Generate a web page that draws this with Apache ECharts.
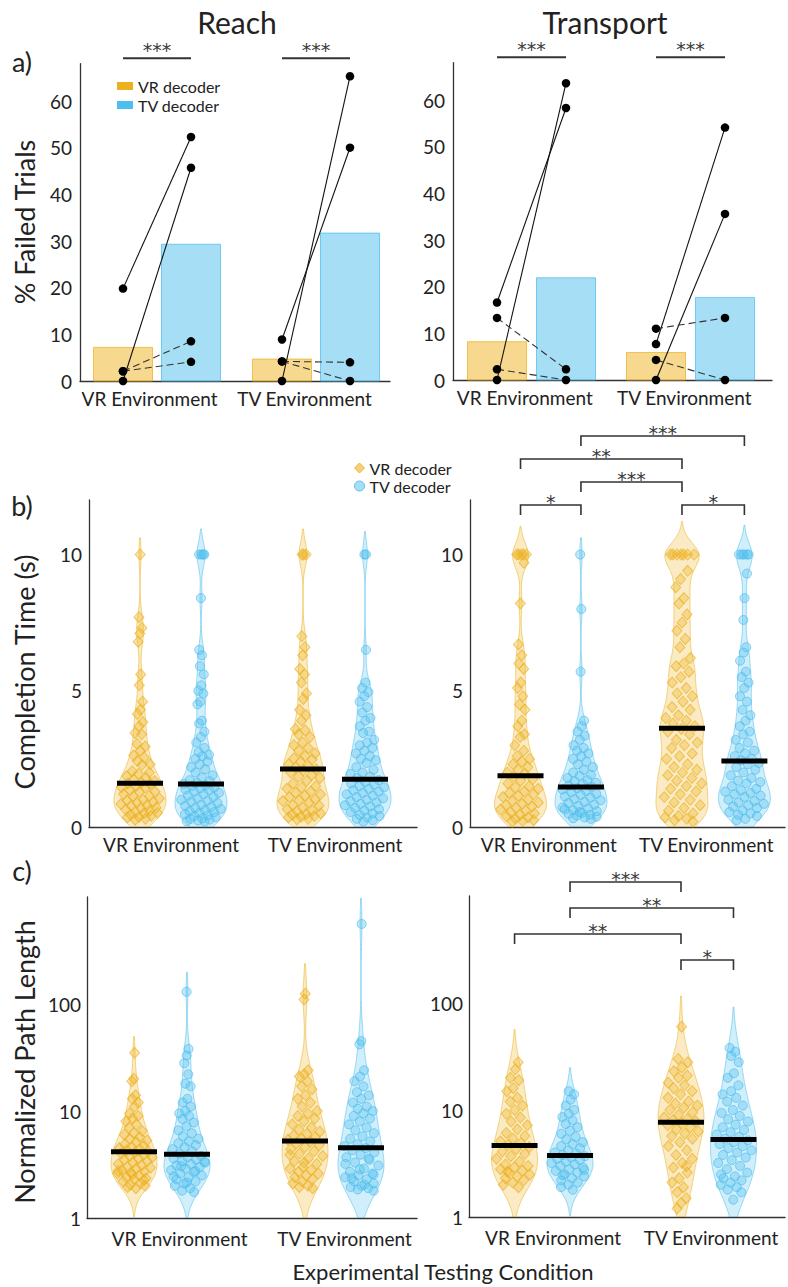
<!DOCTYPE html>
<html><head><meta charset="utf-8">
<script src="https://cdn.jsdelivr.net/npm/echarts@6/dist/echarts.min.js"></script>
<style>html,body{margin:0;padding:0;background:#fff}#c{width:788px;height:1287px}</style>
</head><body><div id="c"></div>
<script>
// ================= DATA =================
const environments = ['VR Environment', 'TV Environment'];
const decoders = ['VR decoder', 'TV decoder'];
const tasks = ['Reach', 'Transport'];
const rowLabels = ['a)', 'b)', 'c)'];
const yTitles = ['% Failed Trials', 'Completion Time (s)', 'Normalized Path Length'];
const xTitle = 'Experimental Testing Condition';

// a) % failed trials, bar order: [VR env/VR dec, VR env/TV dec, TV env/VR dec, TV env/TV dec]
const failedBarsReach = [7.2, 29.3, 4.7, 31.7];
const failedBarsTransport = [8.2, 21.9, 5.9, 17.7];
// per participant [VR decoder, TV decoder]
const failedReachVRenv = [[19.8, 52.3], [0, 45.7], [2.1, 8.5], [2.1, 4.1]];
const failedReachTVenv = [[0, 65.3], [8.9, 50.0], [4.2, 4.0], [4.2, 0]];
const failedTransportVRenv = [[16.6, 58.3], [0, 63.6], [13.3, 2.3], [2.3, 0]];
const failedTransportTVenv = [[7.7, 54.1], [0, 35.6], [11.0, 13.3], [4.3, 0]];
const pairSignificant = [true, true, false, false];
const sigFailedReach = ['***', '***'];
const sigFailedTransport = ['***', '***'];

// b) completion time (s)
const timeReachVRenvVR = [10.0, 7.7, 7.3, 7.1, 6.8, 5.6, 5.2, 4.6, 4.3, 4.15, 3.85, 3.7, 3.45, 3.4, 3.05, 2.95, 2.8, 2.62, 2.55, 2.42, 2.3, 2.28, 2.05, 2.0, 1.95, 1.86, 1.8, 1.74, 1.68, 1.63, 1.6, 1.58, 1.5, 1.46, 1.44, 1.35, 1.3, 1.29, 1.21, 1.14, 1.12, 1.05, 1.0, 0.97, 0.92, 0.9, 0.84, 0.8, 0.78, 0.71, 0.7, 0.64, 0.6, 0.55, 0.52, 0.5, 0.45, 0.41, 0.37, 0.35, 0.3, 0.27];
const timeReachVRenvTV = [10.0, 10.0, 10.0, 10.0, 8.4, 6.5, 6.3, 5.9, 5.6, 5.2, 5.0, 4.9, 4.6, 4.5, 3.9, 3.8, 3.5, 3.3, 3.1, 2.9, 2.75, 2.65, 2.6, 2.5, 2.4, 2.3, 2.2, 2.12, 2.0, 1.9, 1.82, 1.72, 1.68, 1.62, 1.58, 1.53, 1.5, 1.45, 1.42, 1.38, 1.35, 1.3, 1.25, 1.2, 1.15, 1.1, 1.05, 1.0, 0.96, 0.93, 0.88, 0.82, 0.78, 0.74, 0.7, 0.66, 0.62, 0.58, 0.55, 0.51, 0.47, 0.43, 0.4, 0.36, 0.32, 0.3, 0.27, 0.24, 0.21, 0.2];
const timeReachTVenvVR = [10.0, 10.0, 10.0, 7.0, 6.6, 6.3, 5.8, 5.6, 5.3, 4.9, 4.7, 4.3, 4.1, 3.9, 3.6, 3.55, 3.4, 3.3, 3.1, 3.0, 2.9, 2.8, 2.7, 2.6, 2.52, 2.48, 2.4, 2.3, 2.22, 2.18, 2.12, 2.08, 2.0, 1.9, 1.85, 1.8, 1.7, 1.6, 1.5, 1.45, 1.4, 1.3, 1.25, 1.2, 1.15, 1.1, 1.0, 0.98, 0.95, 0.9, 0.8, 0.78, 0.7, 0.65, 0.6, 0.58, 0.5, 0.48, 0.45, 0.4, 0.38, 0.35, 0.3, 0.28];
const timeReachTVenvTV = [10.0, 10.0, 6.5, 5.3, 5.1, 4.95, 4.8, 4.6, 4.4, 4.2, 4.0, 3.9, 3.7, 3.5, 3.45, 3.2, 3.1, 3.0, 2.9, 2.8, 2.7, 2.6, 2.5, 2.45, 2.35, 2.2, 2.1, 2.0, 1.95, 1.85, 1.8, 1.72, 1.65, 1.6, 1.55, 1.5, 1.45, 1.4, 1.35, 1.3, 1.25, 1.2, 1.15, 1.1, 1.05, 1.0, 0.95, 0.9, 0.85, 0.8, 0.75, 0.7, 0.65, 0.6, 0.55, 0.5, 0.45, 0.4, 0.35, 0.3, 0.25, 0.2];
const timeTransportVRenvVR = [10.0, 10.0, 10.0, 10.0, 10.0, 9.7, 8.2, 6.7, 6.3, 6.0, 5.8, 5.3, 5.1, 4.8, 4.5, 4.3, 3.9, 3.7, 3.4, 3.3, 3.0, 2.8, 2.6, 2.5, 2.4, 2.3, 2.2, 2.1, 2.0, 1.95, 1.85, 1.75, 1.7, 1.6, 1.5, 1.45, 1.4, 1.3, 1.25, 1.2, 1.15, 1.1, 1.0, 0.95, 0.9, 0.85, 0.8, 0.75, 0.7, 0.65, 0.6, 0.55, 0.5, 0.45, 0.4, 0.35, 0.3, 0.25, 0.22, 0.2];
const timeTransportVRenvTV = [10.0, 8.0, 5.7, 3.9, 3.7, 3.5, 3.35, 3.2, 3.0, 2.9, 2.8, 2.7, 2.6, 2.5, 2.4, 2.3, 2.2, 2.1, 2.0, 1.92, 1.88, 1.8, 1.72, 1.68, 1.62, 1.58, 1.52, 1.48, 1.42, 1.38, 1.32, 1.28, 1.22, 1.18, 1.12, 1.08, 1.02, 0.98, 0.92, 0.88, 0.82, 0.78, 0.72, 0.68, 0.62, 0.58, 0.52, 0.48, 0.45, 0.42, 0.38, 0.35, 0.32, 0.3, 0.55, 0.65];
const timeTransportTVenvVR = [10.0, 10.0, 10.0, 10.0, 10.0, 10.0, 10.0, 9.4, 9.1, 8.8, 8.4, 8.2, 7.8, 7.5, 7.2, 6.9, 6.6, 6.2, 6.0, 5.9, 5.7, 5.5, 5.3, 5.1, 4.9, 4.8, 4.6, 4.4, 4.3, 4.1, 4.0, 3.9, 3.8, 3.7, 3.6, 3.5, 3.4, 3.2, 3.1, 3.0, 2.9, 2.7, 2.6, 2.5, 2.3, 2.2, 2.1, 2.0, 1.9, 1.8, 1.7, 1.6, 1.5, 1.4, 1.3, 1.2, 1.1, 1.0, 0.9, 0.8, 0.7, 0.6, 0.5, 0.4, 0.35, 0.3, 0.25, 0.2];
const timeTransportTVenvTV = [10.0, 10.0, 10.0, 10.0, 10.0, 9.3, 8.4, 7.6, 6.6, 6.4, 6.1, 5.7, 5.5, 5.3, 5.1, 4.8, 4.6, 4.3, 4.1, 3.9, 3.7, 3.5, 3.4, 3.2, 3.1, 2.9, 2.8, 2.7, 2.6, 2.5, 2.45, 2.35, 2.3, 2.2, 2.1, 2.0, 1.9, 1.8, 1.7, 1.65, 1.6, 1.5, 1.4, 1.35, 1.3, 1.25, 1.2, 1.15, 1.1, 1.0, 0.95, 0.9, 0.85, 0.8, 0.75, 0.7, 0.6, 0.55, 0.5, 0.45, 0.4, 0.3, 0.25];
const timeMediansReach = [1.61, 1.58, 2.13, 1.75];
const timeMediansTransport = [1.88, 1.47, 3.62, 2.42];
const timeTicks = [0, 5, 10];

// c) normalized path length
const pathReachVRenvVR = [35, 20, 19, 14, 13, 12, 11, 9.5, 9.0, 8.5, 8.0, 7.5, 7.0, 6.5, 6.2, 6.0, 5.7, 5.5, 5.3, 5.1, 4.9, 4.7, 4.6, 4.5, 4.4, 4.3, 4.2, 4.1, 4.0, 3.9, 3.8, 3.7, 3.6, 3.5, 3.4, 3.3, 3.2, 3.1, 3.0, 2.95, 2.9, 2.8, 2.7, 2.65, 2.6, 2.5, 2.4, 2.35, 2.3, 2.2, 2.1, 2.05, 2.0, 1.9, 1.95, 2.25, 2.55, 2.75];
const pathReachVRenvTV = [130, 38, 33, 28, 22, 18, 17, 13, 12, 11, 10, 9.5, 9, 8.4, 7.8, 7.2, 6.6, 6.2, 5.8, 5.5, 5.2, 5.0, 4.8, 4.6, 4.4, 4.2, 4.0, 3.8, 3.7, 3.6, 3.5, 3.4, 3.3, 3.2, 3.1, 3.0, 2.9, 2.8, 2.7, 2.6, 2.5, 2.4, 2.3, 2.2, 2.1, 2.0, 1.9, 1.8, 1.75, 2.15, 2.45, 2.75, 3.05, 3.35];
const pathReachTVenvVR = [125, 110, 24, 22, 21, 19, 17, 16, 14, 13, 12, 11, 10, 9.5, 9, 8.5, 8, 7.5, 7, 6.7, 6.4, 6.1, 5.9, 5.7, 5.5, 5.4, 5.2, 5.0, 4.8, 4.6, 4.4, 4.2, 4.0, 3.8, 3.6, 3.4, 3.2, 3.0, 2.9, 2.8, 2.7, 2.6, 2.5, 2.4, 2.3, 2.2, 2.1, 2.0, 1.95, 1.9, 3.3, 3.9];
const pathReachTVenvTV = [560, 45, 42, 24, 21, 19, 17, 15, 14, 13, 12, 11, 10.5, 10, 9.5, 9, 8.5, 8, 7.5, 7, 6.6, 6.2, 5.8, 5.5, 5.2, 4.9, 4.7, 4.5, 4.3, 4.1, 3.9, 3.7, 3.5, 3.3, 3.1, 2.9, 2.7, 2.6, 2.5, 2.4, 2.3, 2.2, 2.1, 2.0, 1.95, 1.9, 1.85, 1.8, 2.05, 2.35, 2.55, 2.85, 3.2, 3.6];
const pathTransportVRenvVR = [28, 24, 20, 19, 16, 15, 13, 12, 11, 10, 9.2, 8.5, 7.8, 7.2, 6.6, 6.1, 5.7, 5.4, 5.1, 4.9, 4.7, 4.5, 4.3, 4.1, 3.9, 3.7, 3.5, 3.3, 3.1, 3.0, 2.9, 2.8, 2.7, 2.6, 2.5, 2.4, 2.3, 2.2, 2.1, 2.0, 1.9, 2.65];
const pathTransportVRenvTV = [15, 14, 12.5, 11, 10, 9.2, 8.6, 8.0, 7.4, 6.9, 6.4, 6.0, 5.6, 5.3, 5.0, 4.8, 4.6, 4.4, 4.2, 4.0, 3.9, 3.8, 3.7, 3.6, 3.5, 3.4, 3.3, 3.2, 3.1, 3.0, 2.9, 2.8, 2.7, 2.6, 2.5, 2.4, 2.3, 2.2, 2.1, 2.0, 1.9, 1.8, 2.45, 2.75];
const pathTransportTVenvVR = [60, 30, 28, 25, 23, 21, 20, 18, 17, 16, 15, 14, 13, 12, 11.5, 11, 10.5, 10, 9.5, 9, 8.5, 8.2, 8.0, 7.8, 7.5, 7.2, 6.9, 6.6, 6.3, 6.0, 5.7, 5.4, 5.0, 4.6, 4.2, 3.8, 3.5, 3.2, 2.9, 2.6, 2.3, 2.1, 1.9, 1.7, 1.5, 1.35, 1.2, 3.0];
const pathTransportTVenvTV = [38, 35, 32, 28, 22, 20, 17, 15, 14, 13, 12, 11, 10, 9.4, 8.8, 8.2, 7.8, 7.3, 6.9, 6.5, 6.2, 5.9, 5.6, 5.4, 5.2, 5.0, 4.8, 4.6, 4.4, 4.2, 4.0, 3.8, 3.6, 3.4, 3.2, 3.0, 2.8, 2.6, 2.4, 2.3, 2.2, 2.1, 2.0, 1.9, 1.8, 1.7, 1.45, 2.5];
const pathMediansReach = [4.17, 3.94, 5.24, 4.54];
const pathMediansTransport = [4.67, 3.76, 7.67, 5.3];

// significance brackets: [slotA, slotB, label]
const sigTimeTransport = [[0, 1, '*'], [2, 3, '*'], [1, 2, '***'], [0, 2, '**'], [1, 3, '***']];
const sigPathTransport = [[2, 3, '*'], [0, 2, '**'], [1, 3, '**'], [1, 2, '***']];

// ================= LAYOUT / STYLE =================
const FONT = 'Lato, "Open Sans", "Noto Sans", sans-serif';
const STAR_FONT = '19px "DejaVu Sans", sans-serif';
const VR_RGB = '237,177,32', TV_RGB = '77,190,238';
const rgba = (c, a) => 'rgba(' + c + ',' + a + ')';
const DEC_RGB = [VR_RGB, TV_RGB];
const TXT = '#222';
const AX = '#333';

const PANELS = [
  {left: 80, top: 63.7, width: 310, height: 317.3, slotPx: [43, 111, 202, 270], labPad: [0, 16, 0, 0], xMargin: 8},
  {left: 453, top: 62.7, width: 319, height: 317.3, slotPx: [44, 113, 203, 272], labPad: [0, 16, 0, 0], xMargin: 8},
  {left: 89, top: 500, width: 328, height: 327, slotPx: [51, 112, 214, 276], labPad: [0, 0, 0, 0], xMargin: 8},
  {left: 470, top: 500, width: 318, height: 327, slotPx: [51, 112, 214, 277], labPad: [0, 0, 0, 0], xMargin: 8},
  {left: 87, top: 897, width: 330, height: 321, slotPx: [47, 100, 218, 274], labPad: [0, 0, 0, 20], xMargin: 11},
  {left: 469, top: 896, width: 319, height: 321, slotPx: [46, 102, 214, 267], labPad: [0, 0, 0, 10], xMargin: 11}
];
const slotX = (p, s) => PANELS[p].slotPx[s] * 4 / PANELS[p].width;

function median(a) {
  const s = a.slice().sort((x, y) => x - y), m = s.length >> 1;
  return s.length % 2 ? s[m] : (s[m - 1] + s[m]) / 2;
}
// kernel density violin outline (normal kernel; fixed or MAD-based bandwidth)
function buildViolin(values, isLog, yMin, yMax, maxHalf, fixedBw) {
  const t = values.map(v => isLog ? Math.log10(v) : v);
  let bw = fixedBw;
  if (!bw) {
    const med = median(t);
    const sig = median(t.map(x => Math.abs(x - med))) / 0.6745;
    bw = sig * Math.pow(4 / (3 * t.length), 0.2);
  }
  const lo = isLog ? Math.log10(yMin) : yMin, hi = isLog ? Math.log10(yMax) : yMax;
  const N = 260, pts = [];
  for (let k = 0; k <= N; k++) {
    const tt = lo + (hi - lo) * k / N;
    let d = 0;
    for (const x of t) { const z = (tt - x) / bw; d += Math.exp(-0.5 * z * z); }
    pts.push([tt, d]);
  }
  const dmax = Math.max.apply(null, pts.map(q => q[1]));
  const out = pts.map(q => [q[0], q[1] / dmax * maxHalf]);
  let a = 0; while (a < out.length - 1 && out[a][1] < 0.4) a++;
  let b = out.length - 1; while (b > 0 && out[b][1] < 0.4) b--;
  const outline = out.slice(a, b + 1).map(q => [isLog ? Math.pow(10, q[0]) : q[0], q[1]]);
  const hwAt = v => {
    const tv = isLog ? Math.log10(v) : v;
    let best = out[0], bd = Infinity;
    for (const q of out) { const dd = Math.abs(q[0] - tv); if (dd < bd) { bd = dd; best = q; } }
    return best[1];
  };
  return {outline, hwAt};
}

const violinPanels = [
  {p: 2, data: [timeReachVRenvVR, timeReachVRenvTV, timeReachTVenvVR, timeReachTVenvTV], med: timeMediansReach, log: false, yMin: 0, yMax: 12, half: 26, bw: 0.45},
  {p: 3, data: [timeTransportVRenvVR, timeTransportVRenvTV, timeTransportTVenvVR, timeTransportTVenvTV], med: timeMediansTransport, log: false, yMin: 0, yMax: 12, half: 26, bw: 0.45},
  {p: 4, data: [pathReachVRenvVR, pathReachVRenvTV, pathReachTVenvVR, pathReachTVenvTV], med: pathMediansReach, log: true, yMin: 1, yMax: 1000, half: 23, bw: 0},
  {p: 5, data: [pathTransportVRenvVR, pathTransportVRenvTV, pathTransportTVenvVR, pathTransportTVenvTV], med: pathMediansTransport, log: true, yMin: 1, yMax: 1000, half: 23, bw: 0}
];

// ================= OPTION =================
const grid = PANELS.map(p => ({left: p.left, top: p.top, width: p.width, height: p.height, containLabel: false}));
const xAxis = PANELS.map((p, i) => ({
  type: 'value', gridIndex: i, min: 0, max: 4, interval: 1,
  axisLine: {show: true, onZero: false, lineStyle: {color: AX, width: 1.3}},
  axisTick: {show: false}, splitLine: {show: false},
  axisLabel: {
    fontSize: 19, color: TXT, fontFamily: FONT, margin: p.xMargin, padding: p.labPad,
    formatter: v => v === 1 ? environments[0] : (v === 3 ? environments[1] : '')
  }
}));
const yCommon = i => ({
  gridIndex: i, axisLine: {show: true, onZero: false, lineStyle: {color: AX, width: 1.3}},
  axisTick: {show: false}, splitLine: {show: false}
});
const yAxis = PANELS.map((p, i) => {
  if (i < 2) return Object.assign(yCommon(i), {type: 'value', min: 0, max: 68, interval: 10,
    axisLabel: {fontSize: 19, color: TXT, fontFamily: FONT, margin: 8, formatter: v => (v % 10 === 0 && v <= 60) ? String(v) : ''}});
  if (i < 4) return Object.assign(yCommon(i), {type: 'value', min: 0, max: 12, interval: 5,
    axisLabel: {fontSize: 19, color: TXT, fontFamily: FONT, margin: 7, formatter: v => timeTicks.indexOf(v) >= 0 ? String(v) : ''}});
  return Object.assign(yCommon(i), {type: 'log', logBase: 10, min: 1, max: 1000,
    axisLabel: {fontSize: 19, color: TXT, fontFamily: FONT, margin: 6, formatter: v => v < 999 ? String(Math.round(v)) : ''}});
});

const series = [];
const starText = (label, x, y) => ({type: 'text', style: {text: label, x: x, y: y, align: 'center', verticalAlign: 'middle',
  textAlign: 'center', textVerticalAlign: 'middle', fill: '#3a3a3a', font: STAR_FONT}});

// ---- row a ----
[[failedBarsReach, failedReachVRenv, failedReachTVenv, sigFailedReach],
 [failedBarsTransport, failedTransportVRenv, failedTransportTVenv, sigFailedTransport]].forEach((cfg, p) => {
  const bars = cfg[0], envPairs = [cfg[1], cfg[2]], sig = cfg[3];
  [0, 1].forEach(dec => {
    series.push({
      type: 'custom', name: decoders[dec], xAxisIndex: p, yAxisIndex: p, z: 2,
      itemStyle: {color: rgba(DEC_RGB[dec], 1)},
      data: [[slotX(p, dec), bars[dec]], [slotX(p, dec + 2), bars[dec + 2]]],
      renderItem: (params, api) => {
        const p0 = api.coord([api.value(0), 0]), p1 = api.coord([api.value(0), api.value(1)]);
        return {type: 'rect', shape: {x: p0[0] - 29.5, y: p1[1], width: 59, height: p0[1] - p1[1]},
          style: {fill: rgba(DEC_RGB[dec], 0.5), stroke: rgba(DEC_RGB[dec], 0.75), lineWidth: 1}};
      }
    });
  });
  envPairs.forEach((pairs, e) => {
    pairs.forEach((pr, k) => {
      series.push({
        type: 'line', xAxisIndex: p, yAxisIndex: p, z: 4, symbol: 'circle', symbolSize: 8.5,
        data: [[slotX(p, 2 * e), pr[0]], [slotX(p, 2 * e + 1), pr[1]]],
        itemStyle: {color: '#000'},
        lineStyle: {color: pairSignificant[k] ? '#111' : '#333', width: 1.1, type: pairSignificant[k] ? 'solid' : [7, 4]},
        animation: false
      });
    });
  });
  series.push({
    type: 'custom', xAxisIndex: p, yAxisIndex: p, z: 5, clip: false,
    itemStyle: {color: '#333'},
    data: [[slotX(p, 0), 0], [slotX(p, 2), 0]],
    renderItem: (params, api) => {
      const e = params.dataIndex;
      const xa = api.coord([slotX(p, 2 * e), 0])[0], xb = api.coord([slotX(p, 2 * e + 1), 0])[0];
      const y = PANELS[p].top - 5.5;
      return {type: 'group', children: [
        {type: 'line', shape: {x1: xa, y1: y, x2: xb, y2: y}, style: {stroke: '#333', lineWidth: 2}},
        starText(sig[e], (xa + xb) / 2, y - 8.5)
      ]};
    }
  });
});

// ---- rows b, c (violins) ----
violinPanels.forEach((vp, vi) => {
  const p = vp.p;
  const vs = vp.data.map(d => buildViolin(d, vp.log, vp.yMin, vp.yMax, vp.half, vp.bw));
  [0, 1].forEach(dec => {
    const slots = [dec, dec + 2];
    series.push({
      type: 'custom', name: decoders[dec], xAxisIndex: p, yAxisIndex: p, z: 2, clip: true,
      itemStyle: {color: rgba(DEC_RGB[dec], 1)},
      data: slots.map(s => [slotX(p, s), vp.med[s]]),
      renderItem: (params, api) => {
        const s = slots[params.dataIndex];
        const cx = api.coord([slotX(p, s), vp.med[s]])[0];
        const L = [], R = [];
        vs[s].outline.forEach(q => {
          const py = api.coord([slotX(p, s), q[0]])[1];
          L.push([cx - q[1], py]); R.push([cx + q[1], py]);
        });
        return {type: 'polygon', shape: {points: L.concat(R.reverse())},
          style: {fill: rgba(DEC_RGB[dec], 0.26), stroke: rgba(DEC_RGB[dec], 0.55), lineWidth: 1}};
      }
    });
    const pts = [];
    slots.forEach(s => {
      const k = 4 / PANELS[p].width;
      vp.data[s].forEach((v, i) => {
        const u = (((i + 1) * 0.6180339887 + s * 0.37 + vi * 0.11) % 1) * 2 - 1;
        const off = u * vs[s].hwAt(v) * 0.82;
        pts.push([slotX(p, s) + off * k, v]);
      });
    });
    series.push({
      type: 'scatter', name: decoders[dec], xAxisIndex: p, yAxisIndex: p, z: 3,
      symbol: dec === 0 ? 'diamond' : 'circle', symbolSize: dec === 0 ? [10, 11] : 9,
      data: pts,
      itemStyle: {color: rgba(DEC_RGB[dec], 0.42), borderColor: rgba(DEC_RGB[dec], 0.85), borderWidth: 1},
      animation: false
    });
    series.push({
      type: 'custom', xAxisIndex: p, yAxisIndex: p, z: 6,
      itemStyle: {color: '#000'},
      data: slots.map(s => [slotX(p, s), vp.med[s]]),
      renderItem: (params, api) => {
        const c = api.coord([api.value(0), api.value(1)]);
        return {type: 'rect', shape: {x: c[0] - 23, y: c[1] - 2.5, width: 46, height: 5}, style: {fill: '#000'}};
      }
    });
  });
});

// ---- significance brackets (Transport b & c) ----
[[3, sigTimeTransport, [0, 0, 1, 2, 3], 505, 23, 0.5], [5, sigPathTransport, [0, 1, 2, 3], 960, 26, 2]].forEach(cfg => {
  const p = cfg[0], list = cfg[1], levels = cfg[2], base = cfg[3], step = cfg[4], yRef = cfg[5];
  series.push({
    type: 'custom', xAxisIndex: p, yAxisIndex: p, z: 7, clip: false,
    itemStyle: {color: '#333'},
    data: list.map(b => [slotX(p, b[0]), yRef]),
    renderItem: (params, api) => {
      const b = list[params.dataIndex];
      const xa = api.coord([slotX(p, b[0]), yRef])[0], xb = api.coord([slotX(p, b[1]), yRef])[0];
      const y = base - step * levels[params.dataIndex];
      return {type: 'group', children: [
        {type: 'polyline', shape: {points: [[xa, y + 10], [xa, y], [xb, y], [xb, y + 10]]}, style: {stroke: '#333', lineWidth: 1.6, fill: null}},
        starText(b[2], (xa + xb) / 2, y - 3.5)
      ]};
    }
  });
});

const legend = [
  {left: 112, top: 73, orient: 'vertical', itemWidth: 16, itemHeight: 8, itemGap: 3, selectedMode: false,
   textStyle: {fontSize: 16, color: TXT, fontFamily: FONT},
   data: [{name: decoders[0], icon: 'rect', itemStyle: {color: rgba(VR_RGB, 1)}},
          {name: decoders[1], icon: 'rect', itemStyle: {color: rgba(TV_RGB, 1)}}]},
  {left: 349, top: 455, orient: 'vertical', itemWidth: 10, itemHeight: 10, itemGap: 2, selectedMode: false,
   textStyle: {fontSize: 16, color: TXT, fontFamily: FONT},
   data: [{name: decoders[0], icon: 'diamond', itemStyle: {color: rgba(VR_RGB, 0.6), borderColor: rgba(VR_RGB, 0.9), borderWidth: 1}},
          {name: decoders[1], icon: 'circle', itemStyle: {color: rgba(TV_RGB, 0.5), borderColor: rgba(TV_RGB, 0.9), borderWidth: 1}}]}
];

const txt = (text, x, y, size, extra) => Object.assign({type: 'text', x: x, y: y,
  style: {text: text, fill: TXT, font: size + 'px ' + FONT, textAlign: 'center', textVerticalAlign: 'middle', align: 'center', verticalAlign: 'middle'}}, extra || {});
const graphic = [
  txt(tasks[0], 237, 22, 30),
  txt(tasks[1], 605, 22, 30),
  txt(rowLabels[0], 22, 61, 27),
  txt(rowLabels[1], 22, 505, 27),
  txt(rowLabels[2], 22, 870, 27),
  txt(yTitles[0], 24, 222, 27, {rotation: Math.PI / 2}),
  txt(yTitles[1], 24, 672, 27, {rotation: Math.PI / 2}),
  txt(yTitles[2], 24, 1062, 27, {rotation: Math.PI / 2}),
  txt(xTitle, 443, 1271, 22)
];

const chart = echarts.init(document.getElementById('c'), null, {renderer: 'svg', width: 788, height: 1287});
chart.setOption({
  animation: false, backgroundColor: '#fff',
  textStyle: {fontFamily: FONT},
  grid, xAxis, yAxis, series, legend, graphic
});
</script></body></html>
